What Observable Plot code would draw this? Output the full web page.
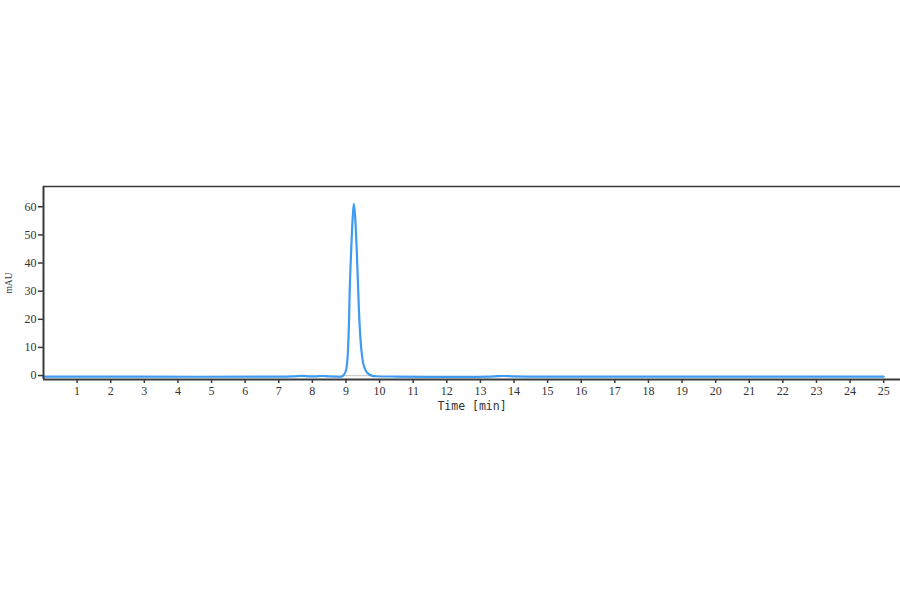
<!DOCTYPE html>
<html>
<head>
<meta charset="utf-8">
<script src="https://cdn.jsdelivr.net/npm/d3@7"></script>
<script src="https://cdn.jsdelivr.net/npm/@observablehq/plot@0.6"></script>
<style>
  html, body { margin: 0; padding: 0; background: #fff; }
  #chart svg { display: block; }
  g[aria-label="x-axis label"] text { font-family: "DejaVu Sans Mono", monospace; font-size: 11.5px; }
  g[aria-label="y-axis label"] text { font-family: "Liberation Serif", serif; font-size: 9.5px; }
</style>
</head>
<body>
<div id="chart"></div>
<script>
// Chromatogram trace (time in min, signal in mAU)
const time = [0, 3, 7.0, 7.4, 7.7, 7.9, 8.1, 8.3, 8.5, 8.8, 8.88, 8.95, 9.0, 9.03, 9.06, 9.09, 9.11, 9.16, 9.2, 9.235, 9.27, 9.315, 9.365, 9.40, 9.46, 9.53, 9.63, 9.78, 9.9, 10.5, 13.3, 13.7, 14.0, 14.6, 20, 25];
const absorbance = [-0.4, -0.4, -0.4, -0.3, -0.1, -0.3, -0.3, -0.15, -0.3, -0.35, -0.3, 0.5, 1.8, 4, 9, 19, 30, 46, 56, 61, 57, 46, 30, 19.5, 9, 3.5, 1.0, -0.1, -0.25, -0.35, -0.35, -0.15, -0.3, -0.35, -0.4, -0.4];

// Integration baseline under the main peak
const baseTime = [8.88, 9.8];
const baseValue = [-0.05, -0.05];

const xTicks = d3.range(1, 26);
const yTicks = [0, 10, 20, 30, 40, 50, 60];
const xDomain = [0, 25.5];
const yDomain = [-1.4, 67.2];

const trace = time.map((t, i) => ({t, v: absorbance[i]}));
const base = baseTime.map((t, i) => ({t, v: baseValue[i]}));

const frameColor = "#3a3a3a";

const chart = Plot.plot({
  width: 900,
  height: 594,
  marginLeft: 43,
  marginRight: 0,
  marginTop: 186,
  marginBottom: 215,
  style: { fontFamily: "'Liberation Serif', serif", fontSize: "12px", color: "#333", background: "#fff" },
  x: { domain: xDomain },
  y: { domain: yDomain },
  marks: [
    Plot.line(base, { x: "t", y: "v", stroke: "#b0b0b0", strokeWidth: 0.8 }),
    Plot.line(trace, { x: "t", y: "v", stroke: "#3d9bf2", strokeWidth: 2.2, curve: "catmull-rom" }),
    Plot.ruleY([yDomain[1]], { stroke: frameColor, strokeWidth: 1.5 }),
    Plot.ruleY([yDomain[0]], { stroke: frameColor, strokeWidth: 2 }),
    Plot.ruleX([xDomain[0]], { stroke: frameColor, strokeWidth: 2 }),
    Plot.axisX(xTicks, {
      tickSize: 4, tickPadding: 3, stroke: frameColor, strokeWidth: 1.5,
      label: "Time [min]", labelAnchor: "center", labelArrow: "none", labelOffset: 30,
      tickFormat: d => String(d)
    }),
    Plot.axisY(yTicks, {
      tickSize: 5, tickPadding: 2, stroke: frameColor, strokeWidth: 1.5,
      label: "mAU", labelAnchor: "center", labelArrow: "none", labelOffset: 38,
      tickFormat: d => String(d)
    })
  ]
});

document.getElementById("chart").appendChild(chart);
</script>
</body>
</html>
